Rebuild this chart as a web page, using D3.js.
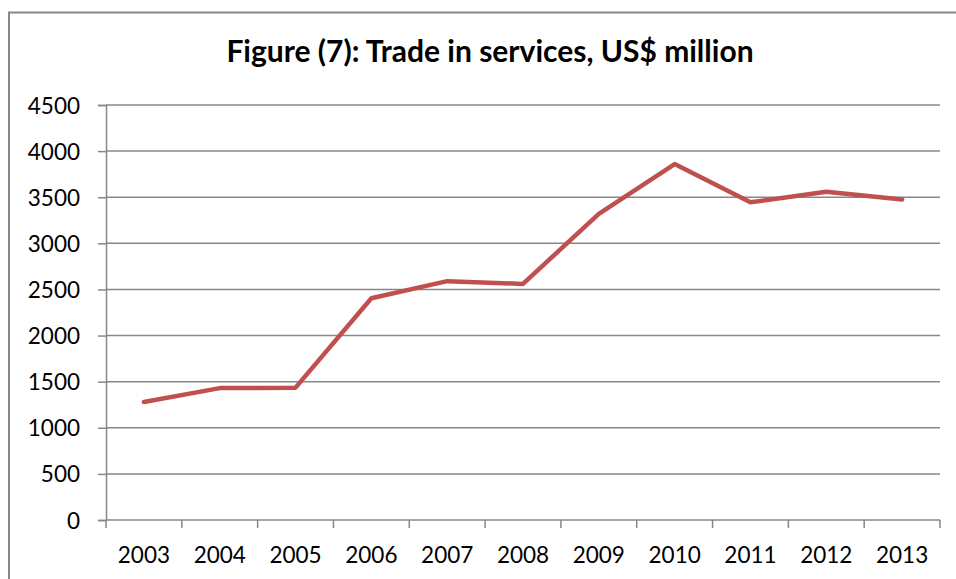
<!DOCTYPE html>
<html>
<head>
<meta charset="utf-8">
<script src="https://cdn.jsdelivr.net/npm/d3@7"></script>
<style>
  html, body { margin: 0; padding: 0; background: #fff; }
  svg { display: block; }
</style>
</head>
<body>
<script>
// Trade in services, US$ million, by year
const years = ["2003", "2004", "2005", "2006", "2007", "2008", "2009", "2010", "2011", "2012", "2013"];
const tradeInServices = [1280, 1430, 1435, 2405, 2590, 2560, 3320, 3860, 3445, 3560, 3475];
const yTicks = [0, 500, 1000, 1500, 2000, 2500, 3000, 3500, 4000, 4500];
const titleText = "Figure (7): Trade in services, US$ million";

const W = 956, H = 579;
const plot = { left: 106, right: 940, top: 105, bottom: 520 };
const fontFamily = "Lato, 'Open Sans', sans-serif";
const gridColor = "#878787";
const lineColor = "#C0504D";
const labelSize = "22.5px";

const svg = d3.select("body").append("svg")
  .attr("width", W).attr("height", H);

// chart frame
svg.append("rect")
  .attr("x", 9).attr("y", 12.5)
  .attr("width", W + 20).attr("height", H + 20)
  .attr("fill", "none").attr("stroke", gridColor).attr("stroke-width", 2);

const x = d3.scaleBand().domain(years).range([plot.left, plot.right]).padding(0);
const y = d3.scaleLinear().domain([0, 4500]).range([plot.bottom, plot.top]);

// horizontal gridlines
svg.append("g").selectAll("line").data(yTicks.filter(d => d > 0)).join("line")
  .attr("x1", plot.left).attr("x2", plot.right)
  .attr("y1", d => y(d)).attr("y2", d => y(d))
  .attr("stroke", gridColor).attr("stroke-width", 1.5);

// y axis
const yAxis = svg.append("g")
  .attr("transform", `translate(${plot.left},0)`)
  .call(d3.axisLeft(y).tickValues(yTicks).tickSize(8).tickPadding(18).tickFormat(d3.format("d")));
yAxis.select(".domain").attr("stroke", gridColor).attr("stroke-width", 1.5);
yAxis.selectAll(".tick line").attr("stroke", gridColor).attr("stroke-width", 1.5);
yAxis.selectAll(".tick text")
  .attr("fill", "#000").attr("dy", "0.36em")
  .style("font-family", fontFamily).style("font-size", labelSize);

// x axis with ticks between categories
const xAxisG = svg.append("g").attr("transform", `translate(0,${plot.bottom})`);
xAxisG.append("line")
  .attr("x1", plot.left).attr("x2", plot.right)
  .attr("stroke", gridColor).attr("stroke-width", 1.5);
const boundaries = years.map(d => x(d)).concat([plot.right]);
xAxisG.selectAll("line.tick").data(boundaries).join("line")
  .attr("class", "tick")
  .attr("x1", d => d).attr("x2", d => d)
  .attr("y1", 0).attr("y2", 8)
  .attr("stroke", gridColor).attr("stroke-width", 1.5);
xAxisG.selectAll("text").data(years).join("text")
  .attr("x", d => x(d) + x.bandwidth() / 2)
  .attr("y", 43)
  .attr("text-anchor", "middle")
  .attr("fill", "#000")
  .style("font-family", fontFamily).style("font-size", labelSize)
  .text(d => d);

// series line
const line = d3.line()
  .x((d, i) => x(years[i]) + x.bandwidth() / 2)
  .y(d => y(d));
svg.append("path")
  .datum(tradeInServices)
  .attr("d", line)
  .attr("fill", "none")
  .attr("stroke", lineColor)
  .attr("stroke-width", 4.5)
  .attr("stroke-linejoin", "round")
  .attr("stroke-linecap", "round");

// title
svg.append("text")
  .attr("x", 490).attr("y", 62)
  .attr("text-anchor", "middle")
  .attr("fill", "#000")
  .style("font-family", fontFamily)
  .style("font-weight", "bold")
  .style("font-size", "30px")
  .text(titleText);
</script>
</body>
</html>
